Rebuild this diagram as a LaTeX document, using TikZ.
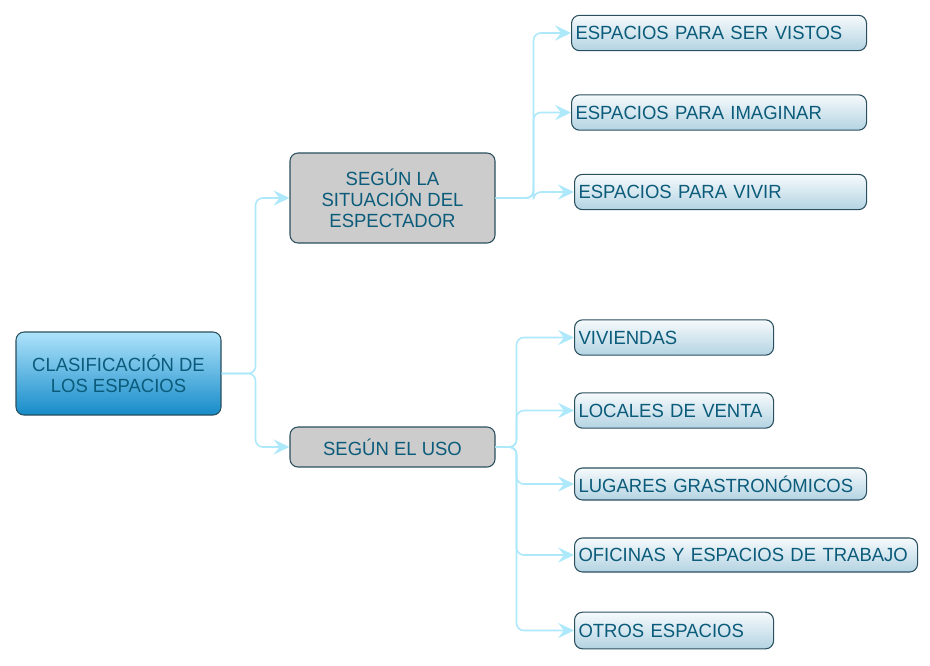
\documentclass[tikz,border=0pt]{standalone}
\usepackage{fontspec}
\setmainfont[FakeStretch=0.97]{Liberation Sans}
\usetikzlibrary{arrows.meta}
\definecolor{txt}{HTML}{0B5B7A}
\definecolor{edge}{HTML}{2A4F5E}
\definecolor{conncol}{HTML}{AEE8FB}
\definecolor{roottop}{HTML}{AEE3FB}
\definecolor{rootbot}{HTML}{168BC9}
\definecolor{leaftop}{HTML}{F6FAFC}
\definecolor{leafbot}{HTML}{B3D3E2}
\definecolor{graybox}{HTML}{CCCCCC}
\begin{document}
\begin{tikzpicture}[x=0.75pt,y=-0.75pt,
  font=\fontsize{14.3}{15.75}\selectfont,
  rootbox/.style={draw=edge, line width=0.8pt, rounded corners=6pt, top color=roottop, bottom color=rootbot,
    text=txt, align=center, inner sep=0pt, minimum width=153.75pt, minimum height=62.25pt},
  midbox/.style={draw=edge, line width=0.8pt, rounded corners=6pt, fill=graybox,
    text=txt, align=center, inner sep=0pt, minimum width=153.75pt},
  leafbox/.style={draw=edge, line width=0.8pt, rounded corners=6pt, top color=leaftop, bottom color=leafbot,
    text=txt, align=left, anchor=west, inner xsep=3pt, inner ysep=0pt, minimum height=26.5pt},
  conn/.style={draw=conncol, line width=1.2pt, rounded corners=5.5pt,
    -{Stealth[length=12pt, width=11.5pt, inset=4.5pt, fill=conncol]}}
]
\useasboundingbox (0,0) rectangle (930,665);

\node[rootbox] (root) at (118.5,373.5) {CLASIFICACIÓN DE\\LOS ESPACIOS};
\node[midbox, minimum height=67.5pt] (sse) at (392.5,198) {SEGÚN LA\\SITUACIÓN DEL\\ESPECTADOR};
\node[midbox, minimum height=30pt] (suso) at (392.5,447) {SEGÚN EL USO};

\node[leafbox, text width=215.25pt] (l1) at (571,33) {ESPACIOS PARA SER VISTOS};
\node[leafbox, text width=215.25pt] (l2) at (571,112.5) {ESPACIOS PARA IMAGINAR};
\node[leafbox, text width=213pt] (l3) at (574,192) {ESPACIOS PARA VIVIR};

\node[leafbox, text width=143.25pt] (u1) at (574,337.5) {VIVIENDAS};
\node[leafbox, text width=143.25pt] (u2) at (574,410.5) {LOCALES DE VENTA};
\node[leafbox, text width=213pt, minimum height=24pt] (u3) at (574,484) {LUGARES GRASTRONÓMICOS};
\node[leafbox, text width=251.25pt, minimum height=25.5pt] (u4) at (574,555) {OFICINAS Y ESPACIOS DE TRABAJO};
\node[leafbox, text width=143.25pt, minimum height=27.5pt] (u5) at (574,630.5) {OTROS ESPACIOS};

\draw[conn] (root.east) -- ++(34,0) |- (sse.west);
\draw[conn] (root.east) -- ++(34,0) |- (suso.west);

\draw[conn] (sse.east) -- ++(38,0) |- (l1.west);
\draw[conn] (sse.east) -- ++(38,0) |- (l2.west);
\draw[conn] (sse.east) -- ++(38,0) |- (l3.west);

\draw[conn] (suso.east) -- ++(21,0) |- (u1.west);
\draw[conn] (suso.east) -- ++(21,0) |- (u2.west);
\draw[conn] (suso.east) -- ++(21,0) |- (u3.west);
\draw[conn] (suso.east) -- ++(21,0) |- (u4.west);
\draw[conn] (suso.east) -- ++(21,0) |- (u5.west);
\end{tikzpicture}
\end{document}
